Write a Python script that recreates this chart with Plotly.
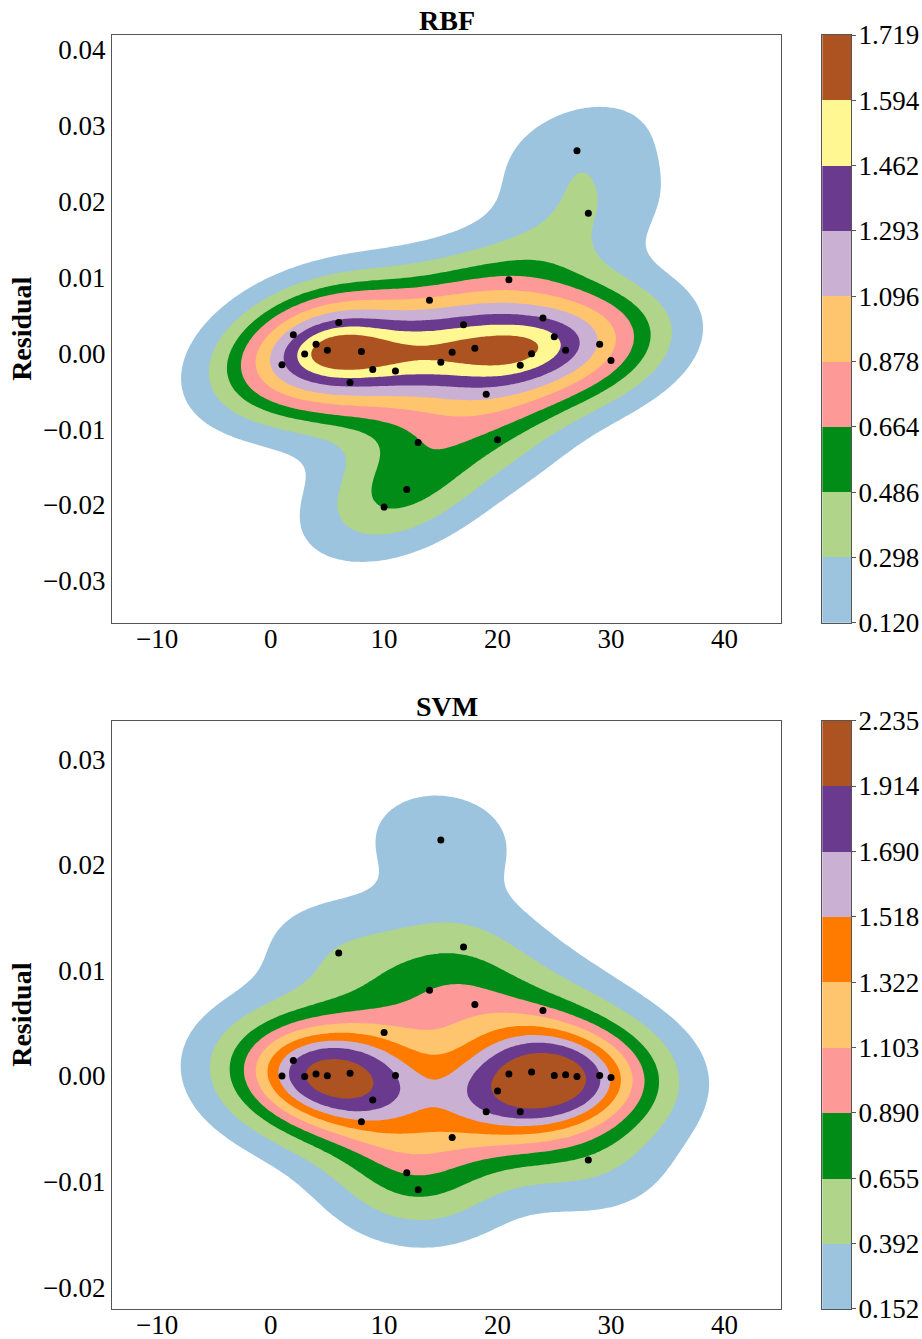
import numpy as np
import plotly.graph_objects as go

# ---- data -------------------------------------------------------------
sample_no = list(range(1, 31))

rbf_residual = [-0.00153, 0.00243, -0.00010, 0.00120, 0.00040, 0.00405, -0.00386, 0.00022, -0.00215, -0.02029,
                -0.00236, -0.01797, -0.01177, 0.00700, -0.00118, 0.00014, 0.00374, 0.00067, -0.00540, -0.01142,
                0.00968, -0.00157, -0.00008, 0.00463, 0.00216, 0.00040, 0.02672, 0.01847, 0.00120, -0.00096]

svm_residual = [0.00000, 0.00147, -0.00005, 0.00020, 0.00002, 0.01165, 0.00027, -0.00433, -0.00228, 0.00411,
                0.00005, -0.00915, -0.01076, 0.00812, 0.02234, -0.00581, 0.01222, 0.00676, -0.00339, -0.00143,
                0.00020, -0.00339, 0.00037, 0.00620, 0.00005, 0.00011, -0.00004, -0.00796, 0.00005, -0.00014]

# density contour levels shown on each colour bar
rbf_levels = [0.120, 0.298, 0.486, 0.664, 0.878, 1.096, 1.293, 1.462, 1.594, 1.719]
svm_levels = [0.152, 0.392, 0.655, 0.890, 1.103, 1.322, 1.518, 1.690, 1.914, 2.235]

rbf_colors = ["#9dc4df", "#afd48a", "#008c17", "#fd9a98", "#fec46e",
              "#cab0d2", "#6a3a8e", "#fff791", "#ad5221"]
svm_colors = ["#9dc4df", "#afd48a", "#008c17", "#fd9a98", "#fec46e",
              "#ff7b00", "#cab0d2", "#6a3a8e", "#ad5221"]

FONT = "Liberation Serif, Times New Roman, serif"
AXIS_GREY = "#555555"


def gaussian_kde_grid(x, y, gridsize=200, cut=3):
    """Bivariate Gaussian KDE (Scott's rule, full covariance) on a regular grid."""
    data = np.vstack([x, y]).astype(float)
    n = data.shape[1]
    factor = n ** (-1.0 / 6.0)
    cov = np.cov(data) * factor ** 2
    bw = np.sqrt(np.diag(cov))
    gx = np.linspace(data[0].min() - cut * bw[0], data[0].max() + cut * bw[0], gridsize)
    gy = np.linspace(data[1].min() - cut * bw[1], data[1].max() + cut * bw[1], gridsize)
    xx, yy = np.meshgrid(gx, gy)
    inv = np.linalg.inv(cov)
    norm = n * 2 * np.pi * np.sqrt(np.linalg.det(cov))
    dx = xx[..., None] - data[0]
    dy = yy[..., None] - data[1]
    q = inv[0, 0] * dx * dx + 2 * inv[0, 1] * dx * dy + inv[1, 1] * dy * dy
    dens = np.exp(-0.5 * q).sum(axis=-1) / norm
    return gx, gy, dens


def to_level_index(dens, levels):
    """Map density onto level-index space so that level k sits at value k."""
    lv = np.asarray(levels, dtype=float)
    idx = np.interp(dens, lv, np.arange(len(lv), dtype=float))
    below = dens < lv[0]
    idx[below] = (dens[below] - lv[0]) / (lv[1] - lv[0])
    return idx


def step_scale(colors):
    """Piecewise-constant colour scale over [0, nbands]; white below the first level."""
    nb = len(colors)
    scale = [[0.0, "#ffffff"], [0.002, colors[0]]]
    for k, c in enumerate(colors):
        if k > 0:
            scale.append([k / nb, c])
        scale.append([(k + 1) / nb, c])
    return scale


# layout geometry (paper fractions of the 810 x 1274 px plotting region)
MAIN_X = [0.0, 0.825926]
CBAR_X = [0.876914, 0.912346]
panels = [
    ("RBF", rbf_residual, rbf_levels, rbf_colors, [0.5387, 1.0],
     [-0.03, -0.02, -0.01, 0.0, 0.01, 0.02, 0.03, 0.04]),
    ("SVM", svm_residual, svm_levels, svm_colors, [0.0, 0.4618],
     [-0.02, -0.01, 0.0, 0.01, 0.02, 0.03]),
]

fig = go.Figure()
layout_axes = {}
annotations = []

for i, (name, resid, levels, colors, dom, ytick) in enumerate(panels):
    main_n = 1 + 2 * i          # main panel axes: 1 / 3
    cbar_n = 2 + 2 * i          # colour bar axes: 2 / 4
    xa, ya = f"x{main_n}", f"y{main_n}"
    xc, yc = f"x{cbar_n}", f"y{cbar_n}"

    gx, gy, dens = gaussian_kde_grid(sample_no, resid)
    z = to_level_index(dens, levels)
    nb = len(levels) - 1

    fig.add_trace(go.Contour(
        x=gx, y=gy, z=z,
        xaxis=xa, yaxis=ya,
        autocontour=False,
        contours=dict(start=0, end=nb, size=1, coloring="fill", showlines=False),
        line=dict(width=0, smoothing=1),
        colorscale=step_scale(colors), zmin=0, zmax=nb,
        showscale=False, hoverinfo="skip",
    ))

    fig.add_trace(go.Scatter(
        x=sample_no, y=resid, mode="markers",
        xaxis=xa, yaxis=ya,
        marker=dict(color="black", size=7),
        showlegend=False, hoverinfo="skip",
    ))

    # colour bar: one stacked block per density band
    fig.add_trace(go.Bar(
        x=[0] * nb, y=[1] * nb, base=list(range(nb)),
        xaxis=xc, yaxis=yc, width=1,
        marker=dict(color=colors, line=dict(width=0)),
        showlegend=False, hoverinfo="skip",
    ))

    tick_font = dict(family=FONT, size=27, color="black")
    sfx = "" if main_n == 1 else str(main_n)
    layout_axes[f"xaxis{sfx}"] = dict(
        domain=MAIN_X, anchor=ya, range=[gx[0], gx[-1]],
        tickmode="array", tickvals=[-10, 0, 10, 20, 30, 40],
        showgrid=False, zeroline=False, showline=True, mirror=True,
        linecolor=AXIS_GREY, linewidth=1, automargin=False,
        ticks="outside", ticklen=2, tickcolor="rgba(0,0,0,0)",
        ticklabelstandoff=-10,
        tickfont=tick_font,
    )
    layout_axes[f"yaxis{sfx}"] = dict(
        domain=dom, anchor=xa, range=[gy[0], gy[-1]],
        tickmode="array", tickvals=ytick, tickformat=".2f",
        showgrid=False, zeroline=False, showline=True, mirror=True,
        linecolor=AXIS_GREY, linewidth=1, automargin=False,
        ticks="outside", ticklen=3, tickcolor="rgba(0,0,0,0)",
        ticklabelstandoff=-3,
        tickfont=tick_font,
    )
    layout_axes[f"xaxis{cbar_n}"] = dict(
        domain=CBAR_X, anchor=yc, range=[-0.5, 0.5],
        showgrid=False, zeroline=False, showticklabels=False, ticks="",
        showline=True, mirror=True, linecolor=AXIS_GREY, linewidth=1,
        automargin=False, fixedrange=True,
    )
    layout_axes[f"yaxis{cbar_n}"] = dict(
        domain=dom, anchor=xc, side="right", range=[0, nb],
        tickmode="array", tickvals=list(range(nb + 1)),
        ticktext=[f"{v:.3f}" for v in levels],
        showgrid=False, zeroline=False,
        showline=True, mirror=True, linecolor=AXIS_GREY, linewidth=1,
        ticks="outside", ticklen=4, tickcolor=AXIS_GREY,
        ticklabelstandoff=-3,
        tickfont=tick_font, automargin=False, fixedrange=True,
    )

    annotations.append(dict(
        text=f"<b>{name}</b>", xref="paper", yref="paper",
        x=(MAIN_X[0] + MAIN_X[1]) / 2, y=dom[1],
        xanchor="center", yanchor="bottom", showarrow=False, yshift=-3,
        font=dict(family=FONT, size=28, color="black"),
    ))
    annotations.append(dict(
        text="<b>Residual</b>", xref="paper", yref="paper",
        x=-0.1111, y=(dom[0] + dom[1]) / 2, textangle=-90,
        xanchor="center", yanchor="middle", showarrow=False,
        font=dict(family=FONT, size=28, color="black"),
    ))

fig.update_layout(
    width=922, height=1339,
    margin=dict(l=112, r=0, t=35, b=30),
    paper_bgcolor="white", plot_bgcolor="white",
    showlegend=False, bargap=0,
    annotations=annotations,
    **layout_axes,
)

fig.write_html("out.html")
